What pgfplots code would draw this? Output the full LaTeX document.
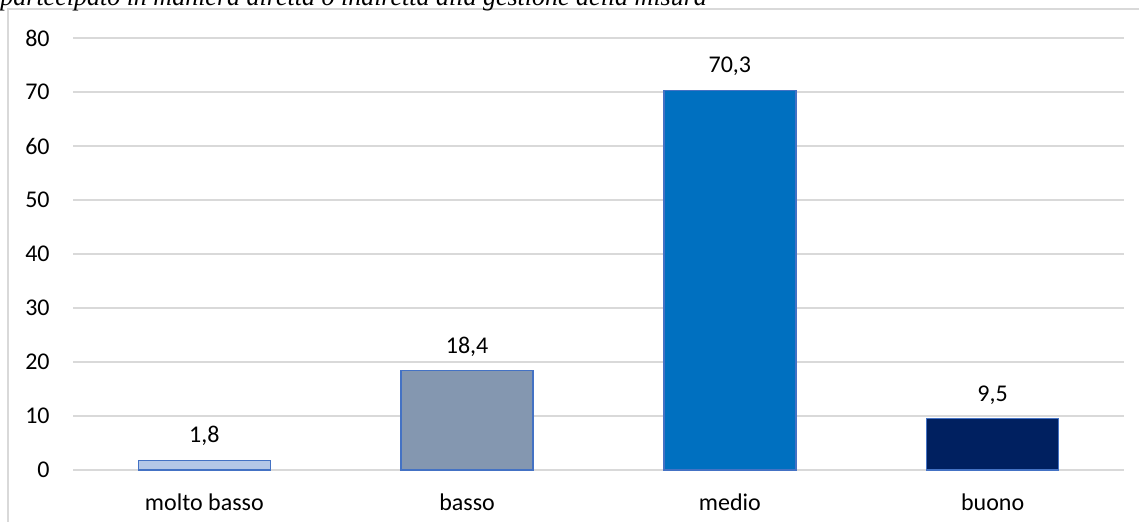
\documentclass[border=0pt]{standalone}
\usepackage{fontspec}
\setmainfont{Carlito}
\newfontfamily\seriffont{Liberation Serif}
\usepackage{pgfplots}
\pgfplotsset{compat=1.18}
\definecolor{gridc}{HTML}{D9D9D9}
\definecolor{cA}{HTML}{B4C7E7}
\definecolor{cB}{HTML}{8497B0}
\definecolor{cC}{HTML}{0070C0}
\definecolor{cD}{HTML}{002060}
\definecolor{bord}{HTML}{4472C4}
\begin{document}
\begin{tikzpicture}
\useasboundingbox (-36.5pt,-26pt) rectangle (533pt,235pt);
\clip (-36.5pt,-26pt) rectangle (533pt,235pt);
\draw[gridc, line width=0.6pt] (-32.5pt,-40pt) -- (-32.5pt,230.5pt) -- (560pt,230.5pt);
\node[anchor=base west, inner sep=0pt, font=\seriffont\itshape\fontsize{13}{15}\selectfont] at (-36.5pt,232.3pt) {partecipato in maniera diretta o indiretta alla gestione della misura};
\begin{axis}[
  at={(0pt,0pt)}, anchor=south west,
  scale only axis, width=525.5pt, height=216pt,
  xmin=-0.5, xmax=3.5, ymin=0, ymax=80,
  ytick={0,10,...,80},
  xtick={0,1,2,3},
  xticklabels={molto basso,basso,medio,buono},
  axis line style={draw=none},
  major tick length=0pt,
  ymajorgrids,
  grid style={gridc, line width=0.6pt},
  tick label style={font=\fontsize{12}{14}\selectfont, inner sep=0pt},
  yticklabel style={anchor=east, xshift=-11.5pt},
  xticklabel style={anchor=north, yshift=-11.5pt},
  /pgf/number format/assume math mode=true,
  ybar, bar width=66pt, bar shift=0pt,
  nodes near coords={\pgfmathprintnumber[use comma,fixed,fixed zerofill,precision=1,assume math mode=true]{\pgfplotspointmeta}},
  every node near coord/.append style={anchor=base, inner sep=0pt, yshift=8.8pt, font=\fontsize{12}{14}\selectfont, text=black},
  clip=false,
]
\addplot[fill=cA, draw=bord, line width=0.7pt] coordinates {(0,1.8)};
\addplot[fill=cB, draw=bord, line width=0.7pt] coordinates {(1,18.4)};
\addplot[fill=cC, draw=bord, line width=0.7pt] coordinates {(2,70.3)};
\addplot[fill=cD, draw=bord, line width=0.7pt] coordinates {(3,9.5)};
\end{axis}
\end{tikzpicture}
\end{document}
